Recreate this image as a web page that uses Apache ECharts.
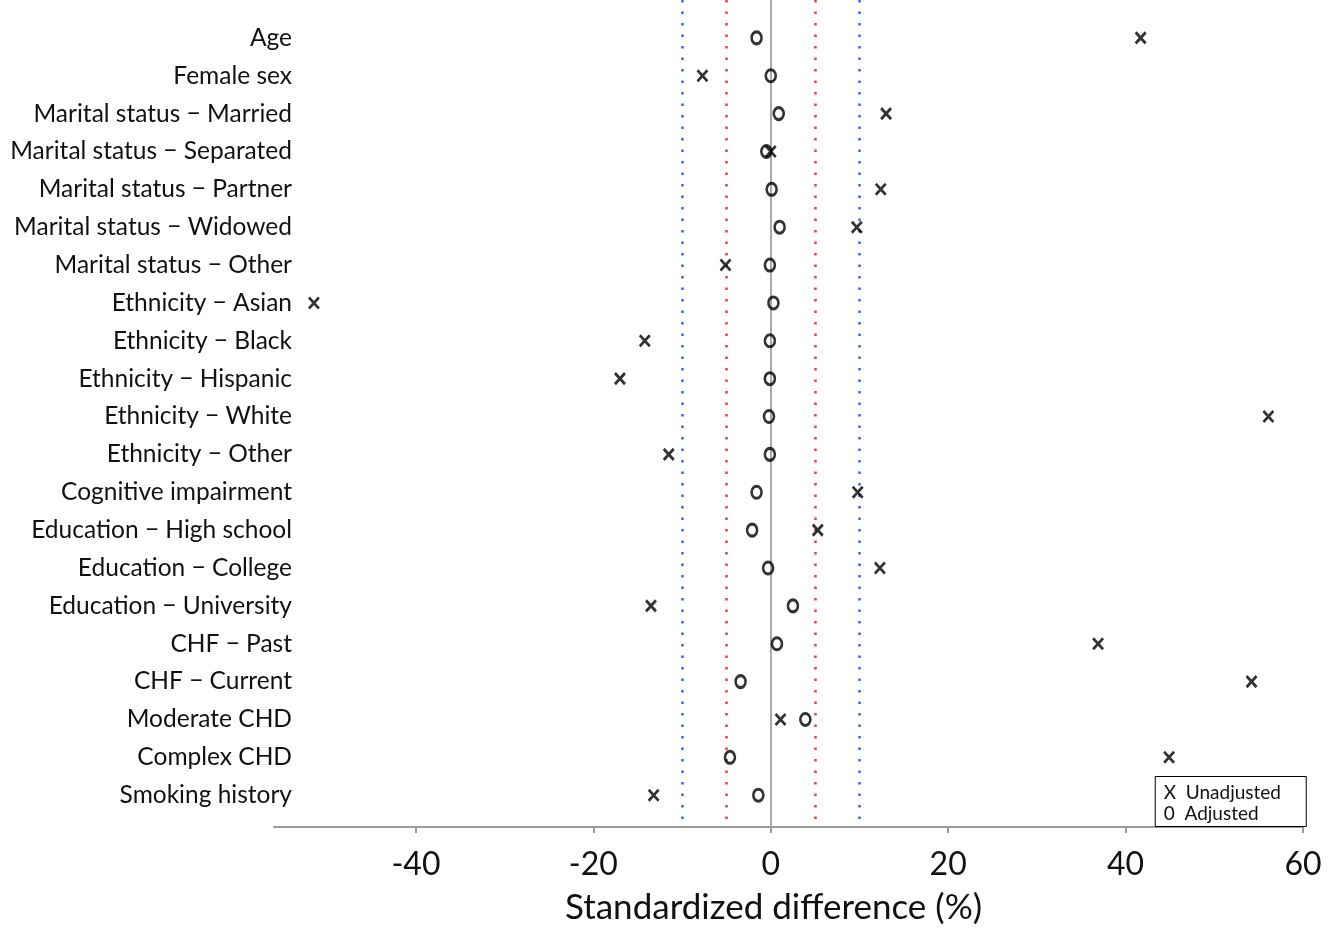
<!DOCTYPE html>
<html>
<head>
<meta charset="utf-8">
<script src="https://cdn.jsdelivr.net/npm/echarts@6/dist/echarts.min.js"></script>
<style>
  html, body { margin: 0; padding: 0; background: #fff; }
  #main { width: 1343px; height: 930px; }
</style>
</head>
<body>
<div id="main"></div>
<script>
// 行标签（从上到下）
var covariates = [
    'Age', 'Female sex', 'Marital status \u2212 Married', 'Marital status \u2212 Separated',
    'Marital status \u2212 Partner', 'Marital status \u2212 Widowed', 'Marital status \u2212 Other',
    'Ethnicity \u2212 Asian', 'Ethnicity \u2212 Black', 'Ethnicity \u2212 Hispanic',
    'Ethnicity \u2212 White', 'Ethnicity \u2212 Other', 'Cognitive impairment',
    'Education \u2212 High school', 'Education \u2212 College', 'Education \u2212 University',
    'CHF \u2212 Past', 'CHF \u2212 Current', 'Moderate CHD', 'Complex CHD', 'Smoking history'
];
// 标准化差异 (%)
var unadjusted = [41.7, -7.7, 13.0, 0.0, 12.4, 9.7, -5.1, -51.5, -14.2, -17.0, 56.1,
    -11.5, 9.8, 5.3, 12.3, -13.5, 36.9, 54.2, 1.1, 44.9, -13.2];
var adjusted = [-1.6, 0.0, 0.9, -0.5, 0.1, 1.0, -0.1, 0.3, -0.1, -0.1, -0.2,
    -0.1, -1.6, -2.1, -0.3, 2.5, 0.7, -3.4, 3.9, -4.6, -1.4];
var xTicks = [-40, -20, 0, 20, 40, 60];
var blueLines = [-10, 10];
var redLines = [-5, 5];

var myChart = echarts.init(document.getElementById('main'));

var unadjData = [], adjData = [];
for (var i = 0; i < covariates.length; i++) {
    unadjData.push([unadjusted[i], i]);
    adjData.push([adjusted[i], i]);
}

var fontFam = 'Lato, "Open Sans", sans-serif';

var option = {
    animation: false,
    backgroundColor: '#fff',
    title: {
        text: 'X  Unadjusted\n0  Adjusted',
        right: 36,
        bottom: 103,
        padding: [6, 26, 3, 9],
        borderColor: '#000',
        borderWidth: 1,
        textStyle: {
            fontFamily: fontFam,
            fontSize: 19,
            fontWeight: 'normal',
            color: '#111',
            lineHeight: 21
        }
    },
    grid: {
        left: 274,
        right: 40,
        top: -2,
        bottom: 103
    },
    xAxis: {
        type: 'value',
        min: -56,
        max: 60,
        name: 'Standardized difference (%)',
        nameLocation: 'middle',
        nameGap: 63,
        nameTextStyle: { fontFamily: fontFam, fontSize: 35, color: '#111', padding: [0, 30, 0, 0] },
        axisLine: { show: true, onZero: false, lineStyle: { color: '#999', width: 2 } },
        axisTick: { show: true, length: 6, customValues: xTicks, lineStyle: { color: '#999', width: 2 } },
        axisLabel: {
            customValues: xTicks,
            margin: 22,
            fontFamily: fontFam,
            fontSize: 32,
            color: '#111'
        },
        splitLine: { show: false }
    },
    yAxis: {
        type: 'value',
        inverse: true,
        min: -1,
        max: 20.84,
        interval: 1,
        axisLine: { show: false },
        axisTick: { show: false },
        splitLine: { show: false },
        axisLabel: {
            margin: -18,
            fontFamily: fontFam,
            fontSize: 24.5,
            color: '#111',
            formatter: function (v) {
                return covariates[v] || '';
            }
        }
    },
    series: [
        {
            name: 'Unadjusted',
            type: 'scatter',
            symbol: 'path://M0,0L10,11M10,0L0,11',
            symbolSize: [10, 11],
            itemStyle: { color: 'transparent', borderColor: '#000', borderWidth: 2.8 },
            data: unadjData,
            z: 5,
            markLine: {
                silent: true,
                symbol: 'none',
                label: { show: false },
                data: [
                    { xAxis: blueLines[0], lineStyle: { color: '#3563f2', type: [2.5, 9], width: 2.5 } },
                    { xAxis: blueLines[1], lineStyle: { color: '#3563f2', type: [2.5, 9], width: 2.5 } },
                    { xAxis: redLines[0], lineStyle: { color: '#f23b3b', type: [2.5, 9], width: 2.5 } },
                    { xAxis: redLines[1], lineStyle: { color: '#f23b3b', type: [2.5, 9], width: 2.5 } },
                    { xAxis: 0, lineStyle: { color: '#aaa', type: 'solid', width: 2 } }
                ]
            }
        },
        {
            name: 'Adjusted',
            type: 'scatter',
            symbol: 'circle',
            symbolSize: [10, 12],
            itemStyle: { color: 'transparent', borderColor: '#000', borderWidth: 2.8 },
            data: adjData,
            z: 5
        }
    ]
};

myChart.setOption(option);
</script>
</body>
</html>
